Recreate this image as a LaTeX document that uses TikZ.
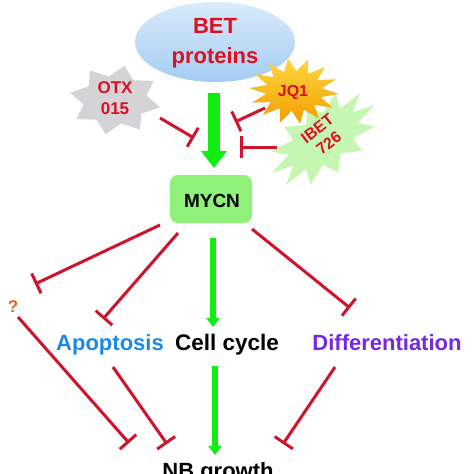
\documentclass[tikz,border=0pt]{standalone}
\usepackage{fontspec}
\setmainfont{Liberation Sans}
\usetikzlibrary{arrows.meta,shapes.geometric,calc}
\definecolor{inh}{HTML}{D0142C}
\definecolor{txtred}{HTML}{DC1020}
\definecolor{grn}{HTML}{10EE10}
\definecolor{mycnfill}{HTML}{8EF27A}
\definecolor{otxgrey}{HTML}{D4D4D6}
\definecolor{ibetgreen}{HTML}{C6F7B2}
\definecolor{apo}{HTML}{1A8AE6}
\definecolor{diff}{HTML}{7628DE}
\definecolor{qorange}{HTML}{E0661A}
\definecolor{betTop}{HTML}{DAEBFB}
\definecolor{betBot}{HTML}{A4CCF2}
\definecolor{jqTop}{HTML}{FFD640}
\definecolor{jqBot}{HTML}{F29E00}
\begin{document}
\begin{tikzpicture}[x=1pt,y=-1pt,
  lbl/.style={font=\bfseries\fontsize{#1}{#1}\selectfont, inner sep=0pt},
  inhib/.style={draw=inh, line width=3pt, -{Bar[width=22pt]}},
  bigarrow/.style={draw=grn, line width=12pt, -{Triangle[width=25pt,length=17pt]}},
  smallarrow/.style={draw=grn, line width=6pt, -{Triangle[width=13pt,length=9pt]}}]
\useasboundingbox (0,0) rectangle (474,474);

% BET ellipse
\node[ellipse, minimum width=160pt, minimum height=80pt, inner sep=0pt,
      top color=betTop, bottom color=betBot] (bet) at (215,42) {};

% IBET star
\begin{scope}[shift={(323,139)}, rotate=38]
  \fill[ibetgreen] plot[variable=\k, samples at={0,...,23}]
   ({ifthenelse(mod(\k,2)==0,62,40)*cos(\k*15+8)}, {ifthenelse(mod(\k,2)==0,36,22)*sin(\k*15+8)}) -- cycle;
\end{scope}
% JQ1 star
\begin{scope}[shift={(294,91)}]
  \shade[top color=jqTop, bottom color=jqBot]
   plot[variable=\k, samples at={0,...,27}]
   ({ifthenelse(mod(\k,2)==0,45,28)*cos(\k*180/14+5)}, {ifthenelse(mod(\k,2)==0,33,20)*sin(\k*180/14+5)}) -- cycle;
\end{scope}
% OTX star
\begin{scope}[shift={(115,100)}]
  \fill[otxgrey] plot[variable=\k, samples at={0,...,15}]
   ({ifthenelse(mod(\k,2)==0,46,32)*cos(\k*22.5+12)}, {ifthenelse(mod(\k,2)==0,35,24)*sin(\k*22.5+12)}) -- cycle;
\end{scope}

% texts
\node[lbl=22, text=txtred, anchor=base] (bett) at (215,33) {BET};
\node[lbl=22, text=txtred, anchor=base] (betp) at (215,63) {proteins};
\node[lbl=17, text=txtred, anchor=base] (otx1) at (115,93) {OTX};
\node[lbl=17, text=txtred, anchor=base] (otx2) at (115,114) {015};
\node[lbl=16, text=txtred, anchor=base] (jq) at (293,96) {JQ1};
\node[font=\bfseries\fontsize{16}{18.6}\selectfont, inner sep=0pt, text=txtred, align=center, rotate=38] (ibet) at (323,136) {IBET\\726};

% MYCN
\node[fill=mycnfill, rounded corners=8pt, minimum width=82pt, minimum height=48pt, inner sep=0pt] (mycn) at (211,199) {};
\node[lbl=19, anchor=base] (mycnt) at (212,207) {MYCN};

\node[lbl=22, text=apo, anchor=base] (apop) at (110,350) {Apoptosis};
\node[lbl=22.5, anchor=base] (cc) at (227,350) {Cell cycle};
\node[lbl=22, text=diff, anchor=base] (dif) at (387,350) {Differentiation};
\node[lbl=17, text=qorange, anchor=base] (q) at (13,312) {?};
\node[lbl=22, anchor=base] (nb) at (218,478) {NB growth};

% coordinates for connector ends
\coordinate (a1) at (160,118); \coordinate (a1e) at (194,138);
\coordinate (b1) at (265,108); \coordinate (b1e) at (235,122);
\coordinate (c1) at (277,147); \coordinate (c1e) at (240,147);
\coordinate (m1) at (160,225); \coordinate (m1e) at (35,284);
\coordinate (m2) at (178,233); \coordinate (m2e) at (103,319);
\coordinate (m3) at (252,229); \coordinate (m3e) at (350,308);
\coordinate (q1) at (18,317); \coordinate (q1e) at (129,443);
\coordinate (p1) at (113,367); \coordinate (p1e) at (167,444);
\coordinate (d1) at (335,367); \coordinate (d1e) at (283,444);
\coordinate (g1) at (214,93); \coordinate (g1e) at (214,168);
\coordinate (g2) at (213,238); \coordinate (g2e) at (213,327);
\coordinate (g3) at (215,366); \coordinate (g3e) at (215,455);

% big green arrow BET -> MYCN
\draw[bigarrow] (g1) -- (g1e);

% inhibitions of drugs
\draw[inhib] (a1) -- (a1e);
\draw[inhib] (b1) -- (b1e);
\draw[inhib] (c1) -- (c1e);

% from MYCN
\draw[inhib] (m1) -- (m1e);
\draw[inhib] (m2) -- (m2e);
\draw[inhib] (m3) -- (m3e);
\draw[smallarrow] (g2) -- (g2e);

% to NB growth
\draw[inhib] (q1) -- (q1e);
\draw[inhib] (p1) -- (p1e);
\draw[inhib] (d1) -- (d1e);
\draw[smallarrow] (g3) -- (g3e);
\end{tikzpicture}
\end{document}
